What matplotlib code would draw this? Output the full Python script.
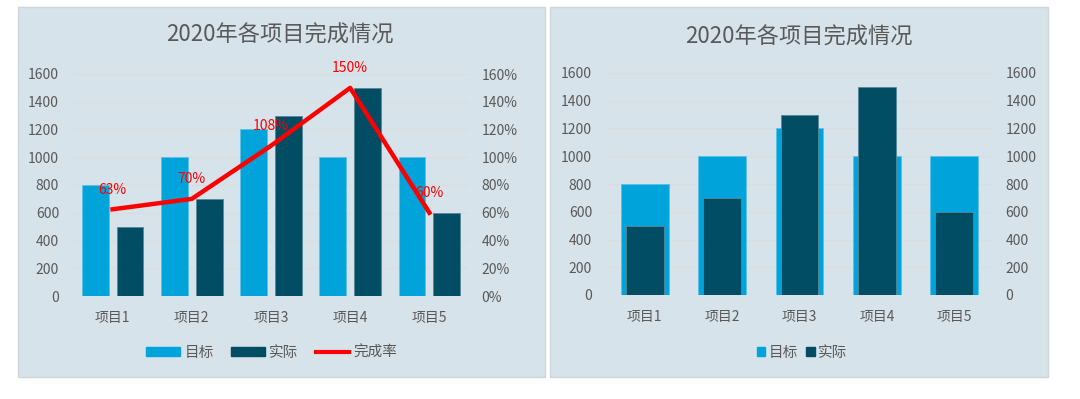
import matplotlib.pyplot as plt
import matplotlib.patches as mpatches
from matplotlib.lines import Line2D
import numpy as np

plt.rcParams['font.family'] = ['Noto Sans CJK SC', 'DejaVu Sans']

# data
items = ["项目1", "项目2", "项目3", "项目4", "项目5"]
target = [800, 1000, 1200, 1000, 1000]
actual = [500, 700, 1300, 1500, 600]
rate = [0.625, 0.70, 1.083, 1.50, 0.60]
rate_labels = ["63%", "70%", "108%", "150%", "60%"]
left_ticks = [0, 200, 400, 600, 800, 1000, 1200, 1400, 1600]
pct_ticks = [0, 0.2, 0.4, 0.6, 0.8, 1.0, 1.2, 1.4, 1.6]
title = "2020年各项目完成情况"

c_target = "#00a3da"
c_actual = "#004d64"
c_bg = "#d6e3ea"
c_text = "#595959"
c_grid = "#dcdcdc"

W, H = 1080, 399
fig = plt.figure(figsize=(W / 100, H / 100), dpi=100)
fig.patch.set_facecolor("white")


def fx(px):
    return px / W


def fy(py):
    return 1 - py / H


# panel backgrounds (behind the axes)
for x0, x1 in [(18, 545), (550, 1048)]:
    fig.patches.append(mpatches.Rectangle((fx(x0), fy(377)), fx(x1 - x0), (377 - 7) / H,
                                          transform=fig.transFigure, facecolor=c_bg,
                                          edgecolor="#cfd6da", lw=1, zorder=-10))


def style_axis(ax, pad_l, pad_x):
    ax.set_facecolor("none")
    for s in ax.spines.values():
        s.set_visible(False)
    ax.tick_params(axis="both", length=0, colors=c_text, labelsize=10)
    ax.tick_params(axis="y", pad=pad_l)
    ax.tick_params(axis="x", pad=pad_x)


x = np.arange(len(items))

# ---------- left: clustered bars + completion rate line ----------
ax1 = fig.add_axes([fx(73), fy(296), fx(396), 222 / H])
style_axis(ax1, 10, 11)
w = 0.34
ax1.bar(x - 0.22, target, w, color=c_target, edgecolor="#5cc0e4", lw=0.6, zorder=2)
ax1.bar(x + 0.22, actual, w, color=c_actual, edgecolor="#5a8797", lw=0.6, zorder=2)
ax1.set_ylim(0, 1600)
ax1.set_xlim(-0.5, len(items) - 0.5)
ax1.set_yticks(left_ticks)
ax1.set_xticks(x)
ax1.set_xticklabels(items)
ax1.grid(axis="y", color=c_grid, lw=0.8, zorder=0)
ax1.set_axisbelow(True)

ax1r = ax1.twinx()
style_axis(ax1r, 9, 11)
ax1r.plot(x, rate, color="#ff0000", lw=3.2, zorder=5)
ax1r.set_ylim(0, 1.6)
ax1r.set_yticks(pct_ticks)
ax1r.set_yticklabels([f"{int(round(t * 100))}%" for t in pct_ticks])
for xi, r, lab in zip(x, rate, rate_labels):
    ax1r.annotate(lab, (xi, r), xytext=(0, 14), textcoords="offset points",
                  ha="center", va="center", color="#ff0000", fontsize=10)

handles = [mpatches.Patch(color=c_target, label="目标"),
           mpatches.Patch(color=c_actual, label="实际"),
           Line2D([0], [0], color="#ff0000", lw=3, label="完成率")]
fig.legend(handles=handles, loc="center", bbox_to_anchor=(fx(272), fy(353)), ncol=3,
           frameon=False, fontsize=10.5, labelcolor=c_text, handlelength=2.3,
           handleheight=0.55, handletextpad=0.3, columnspacing=1.2)

fig.text(fx(280), fy(35), title, ha="center", va="center", fontsize=16, color=c_text)

# ---------- right: overlapped bars ----------
ax2 = fig.add_axes([fx(606), fy(295), fx(387), 222 / H])
style_axis(ax2, 10, 11)
ax2.bar(x, target, 0.62, color=c_target, edgecolor="#5cc0e4", lw=0.6, zorder=2)
ax2.set_ylim(0, 1600)
ax2.set_xlim(-0.5, len(items) - 0.5)
ax2.set_yticks(left_ticks)
ax2.set_xticks(x)
ax2.set_xticklabels(items)
ax2.grid(axis="y", color=c_grid, lw=0.8, zorder=0)
ax2.set_axisbelow(True)

ax2r = ax2.twinx()
style_axis(ax2r, 9, 11)
ax2r.bar(x, actual, 0.49, color=c_actual, edgecolor="#5a8797", lw=0.6, zorder=3)
ax2r.set_ylim(0, 1600)
ax2r.set_yticks(left_ticks)

handles2 = [mpatches.Patch(color=c_target, label="目标"),
            mpatches.Patch(color=c_actual, label="实际")]
fig.legend(handles=handles2, loc="center", bbox_to_anchor=(fx(802), fy(353)), ncol=2,
           frameon=False, fontsize=10.5, labelcolor=c_text, handlelength=0.6,
           handleheight=0.6, handletextpad=0.2, columnspacing=0.6)

fig.text(fx(799), fy(37), title, ha="center", va="center", fontsize=16, color=c_text)

fig.savefig("out.png", dpi=100, facecolor="white")
